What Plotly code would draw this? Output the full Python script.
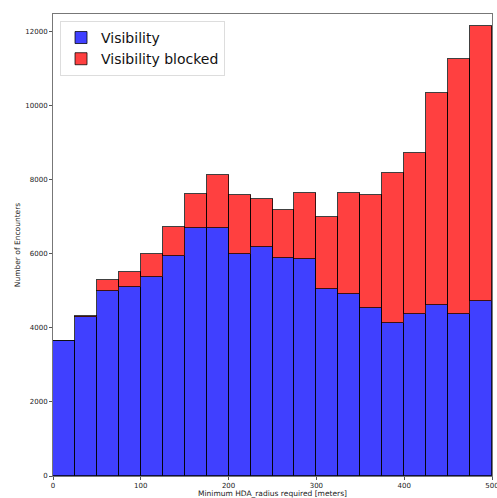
import plotly.graph_objects as go

# Histogram bins of 25 m (left edges); the first bin lies just left of the axis
bin_left = [-25, 0, 25, 50, 75, 100, 125, 150, 175, 200, 225,
            250, 275, 300, 325, 350, 375, 400, 425, 450, 475]
bin_width = 25

visible_counts = [2910, 3640, 4280, 4985, 5100, 5360, 5930, 6695, 6695, 5985, 6175,
                  5875, 5850, 5035, 4920, 4525, 4135, 4360, 4615, 4380, 4715]
blocked_counts = [0, 0, 35, 297, 414, 638, 792, 910, 1424, 1594, 1297,
                  1297, 1801, 1955, 2710, 3063, 4054, 4368, 5710, 6876, 7440]

x_ticks = [0, 100, 200, 300, 400, 500]
y_ticks = [0, 2000, 4000, 6000, 8000, 10000, 12000]

centers = [b + bin_width / 2 for b in bin_left]
edge = dict(color="rgba(0,0,0,0.75)", width=1)

fig = go.Figure()
fig.add_trace(go.Bar(
    x=centers, y=visible_counts, width=bin_width,
    name="Visibility",
    marker=dict(color="rgb(64,64,255)", line=edge),
))
fig.add_trace(go.Bar(
    x=centers, y=blocked_counts, width=bin_width,
    name="Visibility blocked",
    marker=dict(color="rgb(255,64,64)", line=edge),
))

axis_common = dict(
    showgrid=False, zeroline=False, automargin=False,
    showline=True, linecolor="#777777", linewidth=1, mirror=True,
    ticks="outside", ticklen=3, tickcolor="#555555", tickwidth=1,
    tickfont=dict(size=7, color="#222222"),
    ticklabeloverflow="allow", layer="below traces",
)

fig.update_layout(
    barmode="stack",
    bargap=0,
    width=497, height=498,
    margin=dict(l=53, r=5, t=14, b=22),
    paper_bgcolor="white", plot_bgcolor="white",
    font=dict(family="DejaVu Sans", color="#222222"),
    xaxis=dict(range=[0, 500.001], tickvals=x_ticks,
               title=dict(text="Minimum HDA_radius required [meters]",
                          font=dict(size=7.5), standoff=2),
               **axis_common),
    yaxis=dict(range=[0, 12470], tickvals=y_ticks, tickformat="d",
               title=dict(text="Number of Encounters", font=dict(size=7.5), standoff=3),
               **axis_common),
    legend=dict(
        x=0.016, y=0.985, xanchor="left", yanchor="top",
        bgcolor="rgba(255,255,255,0.8)", bordercolor="#dddddd", borderwidth=1,
        font=dict(size=14, color="#111111"),
        traceorder="normal", itemwidth=30, tracegroupgap=0,
    ),
)

fig.write_html("out.html")
